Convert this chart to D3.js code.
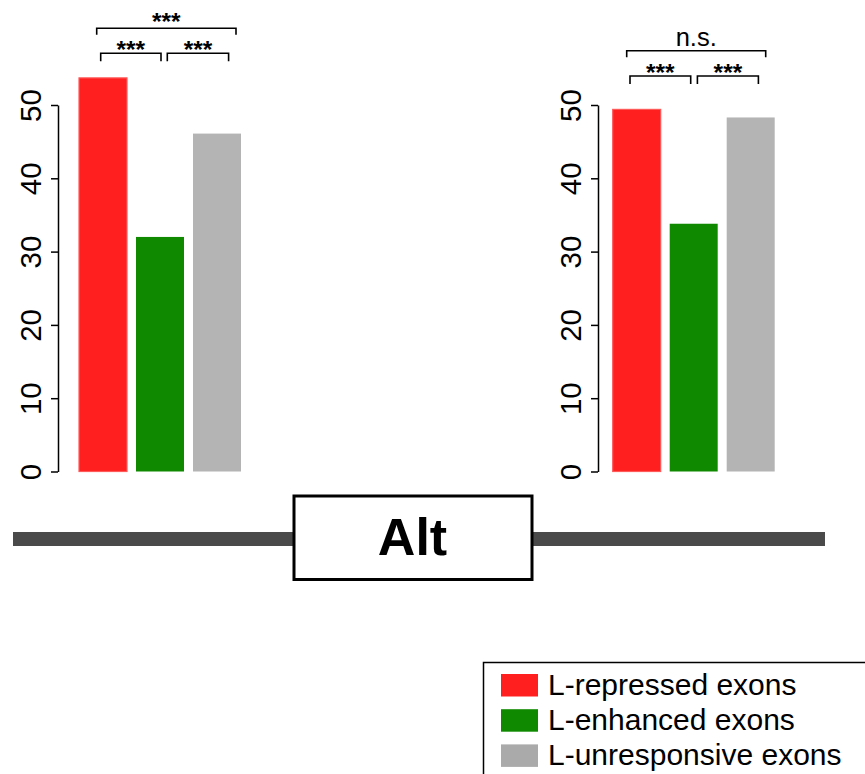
<!DOCTYPE html>
<html><head><meta charset="utf-8">
<script src="https://cdn.jsdelivr.net/npm/d3@7"></script>
<style>body{margin:0;background:#fff}svg{display:block;font-family:"Liberation Sans",Arial,sans-serif}</style>
</head><body>
<svg id="c" width="865" height="774"></svg>
<script>
const categories = ["L-repressed exons", "L-enhanced exons", "L-unresponsive exons"];
const colors = ["#ff1f1f", "#0f8a00", "#b4b4b4"];
const legendColors = ["#ff1f1f", "#0f8a00", "#aaaaaa"];
const leftValues = [53.7, 32.0, 46.1];
const rightValues = [49.4, 33.8, 48.3];
const tickValues = [0, 10, 20, 30, 40, 50];
const leftSig = ["***", "***", "***"];   // [1vs2, 2vs3, 1vs3]
const rightSig = ["***", "***", "n.s."];
const geneLabel = "Alt";

const svg = d3.select("#c");
const y = d3.scaleLinear().domain([0, 50]).range([471.5, 105]);

function panel(axisX, barStart, values, sig, L) {
  const g = svg.append("g");
  const x = d3.scaleBand().domain(categories).range([barStart, barStart + 162]).paddingInner(9 / 57).paddingOuter(0);
  g.selectAll("rect.bar").data(values).join("rect")
    .attr("x", (d, i) => x(categories[i]))
    .attr("width", x.bandwidth())
    .attr("y", d => y(d))
    .attr("height", d => y(0) - y(d))
    .attr("fill", (d, i) => colors[i])
    .attr("stroke", (d, i) => i === 0 ? "#ff5a5a" : "none")
    .attr("stroke-width", 1.2);
  const ax = g.append("g").attr("transform", `translate(${axisX},0)`)
    .call(d3.axisLeft(y).tickValues(tickValues).tickSize(7).tickPadding(12).tickSizeOuter(0));
  ax.select(".domain").attr("stroke", "#000").attr("stroke-width", 1.5);
  ax.selectAll(".tick line").attr("stroke", "#000").attr("stroke-width", 1.5);
  ax.selectAll(".tick text").attr("font-size", 29.5).attr("fill", "#000")
    .attr("transform", "rotate(-90)").attr("text-anchor", "middle")
    .attr("x", 0).attr("y", -17.5).attr("dy", 0);
  const c = i => x(categories[i]) + x.bandwidth() / 2;
  const br = (x1, x2, yy, h, label, off) => {
    const ns = label === "n.s.";
    g.append("path").attr("d", `M${x1},${yy + h}V${yy}H${x2}V${yy + h}`)
      .attr("fill", "none").attr("stroke", "#000").attr("stroke-width", 1.6);
    g.append("text").attr("x", (x1 + x2) / 2).attr("y", ns ? yy - 5 : yy + off)
      .attr("text-anchor", "middle").attr("font-size", ns ? 25.5 : 24.5)
      .attr("font-weight", ns ? "normal" : "bold").text(label);
  };
  br(c(0) + L.a[0], c(1) + L.a[1], L.low, 8, sig[0], 4.5);
  br(c(1) + L.b[0], c(2) + L.b[1], L.low, 8, sig[1], 4.5);
  br(c(0) + L.t[0], c(2) + L.t[1], L.top, 6.5, sig[2], 2);
}
panel(58, 79, leftValues, leftSig, {a: [-2.3, 1], b: [7.3, 11.6], t: [-6.3, 19], low: 53.3, top: 28.3});
panel(598, 612.7, rightValues, rightSig, {a: [-6.7, -3], b: [3.7, 7.7], t: [-10, 15], low: 76, top: 50.7});

// gene model
svg.append("rect").attr("x", 13).attr("y", 532).attr("width", 812).attr("height", 14).attr("fill", "#4a4a4a");
svg.append("rect").attr("x", 294).attr("y", 496).attr("width", 238).attr("height", 83.5)
  .attr("fill", "#fff").attr("stroke", "#000").attr("stroke-width", 3);
svg.append("text").attr("x", 412.5).attr("y", 555).attr("text-anchor", "middle")
  .attr("font-size", 52).attr("font-weight", "bold").text(geneLabel);

// legend
const lg = svg.append("g");
lg.append("rect").attr("x", 483.5).attr("y", 662.5).attr("width", 400).attr("height", 130)
  .attr("fill", "#fff").attr("stroke", "#000").attr("stroke-width", 1.5);
categories.forEach((cat, i) => {
  lg.append("rect").attr("x", 501).attr("y", 674 + i * 35.2).attr("width", 37).attr("height", 22.5)
    .attr("fill", legendColors[i]);
  lg.append("text").attr("x", 548).attr("y", 695 + i * 35).attr("font-size", 30).text(cat);
});
</script>
</body></html>
